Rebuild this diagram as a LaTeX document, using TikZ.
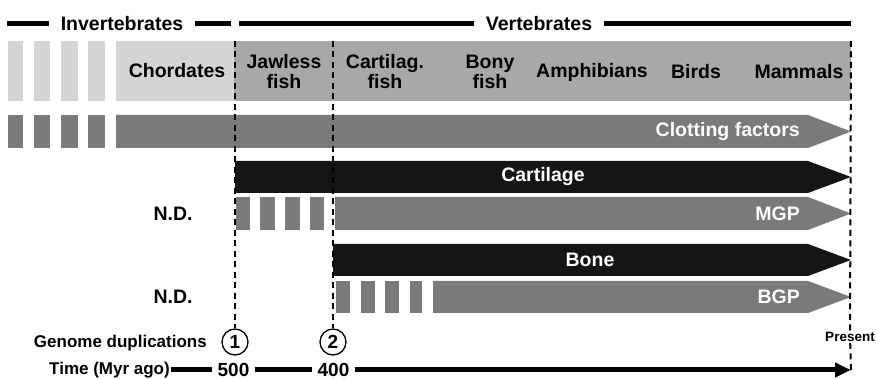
\documentclass[tikz,border=0pt]{standalone}
\usepackage{fontspec}
\setmainfont{Liberation Sans}
\usetikzlibrary{arrows.meta, positioning}
\definecolor{pale}{HTML}{D4D4D4}
\definecolor{band}{HTML}{A8A8A8}
\definecolor{mid}{HTML}{7A7A7A}
\definecolor{ink}{HTML}{151515}

\begin{document}
\begin{tikzpicture}[x=1pt, y=-1pt,
  lbl/.style={font=\fontsize{19.5}{20}\selectfont\bfseries, align=center, inner sep=0pt},
  wlbl/.style={lbl, text=white},
  small/.style={font=\fontsize{17}{19}\selectfont\bfseries, inner sep=0pt},
  hline/.style={line width=5pt},
  vline/.style={line width=2pt, dash pattern=on 6pt off 4.5pt},
  circ/.style={circle, draw, line width=1.3pt, fill=white, minimum size=26pt,
               inner sep=0pt, font=\fontsize{19}{20}\selectfont\bfseries},
  arr/.style={line width=5pt, -{Triangle[length=16pt, width=14pt]}}
]
  \useasboundingbox (0,0) rectangle (876,379);

  % header
  \node[lbl, inner xsep=12pt] (inv) at (122,23.5) {Invertebrates};
  \node[lbl, inner xsep=12pt] (vert) at (539,23.5) {Vertebrates};
  \coordinate (h0) at (7,23.5);
  \coordinate (h1) at (239,23.5);
  \coordinate (h2) at (851,23.5);
  \draw[hline] (h0) -- (inv);
  \draw[hline] (inv.east) -- ++(36,0);
  \draw[hline] (h1) -- (vert);
  \draw[hline] (vert) -- (h2);

  % taxa band
  \foreach \a/\b in {8/23, 34/50, 61/78, 88/105}
    \fill[pale] (\a,41) rectangle (\b,101);
  \fill[pale] (116,41) rectangle (234,101);
  \fill[band] (234,41) rectangle (851,101);
  \node[lbl] (chord) at (177,71) {Chordates};
  \node[lbl] (jaw)   at (284,72) {Jawless\\fish};
  \node[lbl] (cart)  at (385,72) {Cartilag.\\fish};
  \node[lbl] (bony)  at (490,72) {Bony\\fish};
  \node[lbl] (amph)  at (592,72) {Amphibians};
  \node[lbl] (bird)  at (696,72) {Birds};
  \node[lbl] (mamm)  at (799,72) {Mammals};

  % clotting factors
  \foreach \a/\b in {8/23, 34/50, 61/78, 88/105}
    \fill[mid] (\a,115) rectangle (\b,148);
  \fill[mid] (116,115) -- (808,115) -- (851,131.5) -- (808,148) -- (116,148) -- cycle;
  \node[wlbl, anchor=east] (clot) at (800,131.5) {Clotting factors};

  % cartilage and MGP
  \fill[ink] (235,161) -- (808,161) -- (851,177) -- (808,193) -- (235,193) -- cycle;
  \node[wlbl] (cartl) at (543,177) {Cartilage};
  \foreach \a/\b in {236/250, 260/275, 285/300, 310/324}
    \fill[mid] (\a,197) rectangle (\b,230);
  \fill[mid] (335,197) -- (808,197) -- (851,213.5) -- (808,230) -- (335,230) -- cycle;
  \node[wlbl, anchor=east] (mgp) at (800,213.5) {MGP};
  \node[lbl] (nd1) at (173,213.5) {N.D.};

  % bone and BGP
  \fill[ink] (333,244) -- (808,244) -- (851,260) -- (808,276) -- (333,276) -- cycle;
  \node[wlbl] (bone) at (590,260) {Bone};
  \foreach \a/\b in {336/350, 361/375, 385/399, 410/422}
    \fill[mid] (\a,281) rectangle (\b,313);
  \fill[mid] (433,281) -- (808,281) -- (851,297) -- (808,313) -- (433,313) -- cycle;
  \node[wlbl, anchor=east] (bgp) at (800,297) {BGP};
  \node[lbl] (nd2) at (173,297) {N.D.};

  % duplications and time axis
  \node[circ] (dup1) at (235,342) {1};
  \node[circ] (dup2) at (333,342) {2};
  \node[small, anchor=base east] (gdup) at (207,348) {Genome duplications};
  \node[font=\fontsize{13.5}{15}\selectfont\bfseries, inner sep=1pt, fill=white] (pres) at (850,337) {Present};
  \coordinate (d1) at (235,41);
  \coordinate (d2) at (333,41);
  \coordinate (d3) at (851,41);
  \coordinate (tend) at (851,370);
  \draw[vline] (d1) -- (dup1);
  \draw[vline] (d2) -- (dup2);
  \draw[vline] (d3) -- (pres);
  \draw[vline] (pres) -- (tend);

  \node[small, anchor=east, inner xsep=1pt] (time) at (171,370) {Time (Myr ago)};
  \node[font=\fontsize{19}{20}\selectfont\bfseries, inner xsep=5pt, inner ysep=0pt] (t500) at (233.5,370) {500};
  \node[font=\fontsize{19}{20}\selectfont\bfseries, inner xsep=5pt, inner ysep=0pt] (t400) at (333.5,370) {400};
  \draw[line width=5pt] (time) -- (t500);
  \draw[line width=5pt] (t500) -- (t400);
  \draw[arr] (t400) -- (tend);
\end{tikzpicture}
\end{document}
